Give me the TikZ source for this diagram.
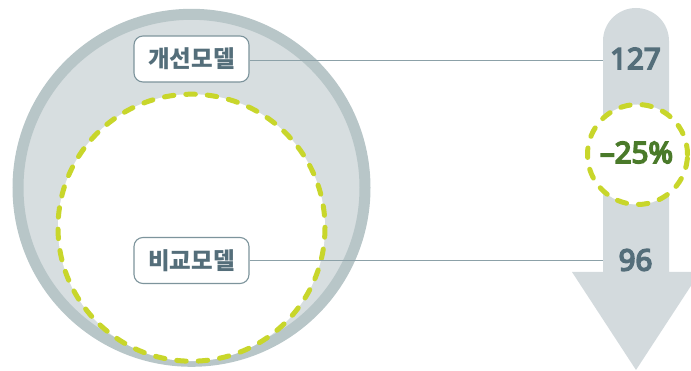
\documentclass[tikz,border=0pt]{standalone}
\usepackage{fontspec}
\setmainfont{Noto Sans}
\newfontfamily\krfont{Noto Sans CJK KR}
\newfontfamily\numfont{Noto Sans}[FakeBold=5.5]
\definecolor{ringc}{HTML}{B8C6C8}
\definecolor{fillc}{HTML}{D7DEE0}
\definecolor{arrowc}{HTML}{D3DADD}
\definecolor{dashc}{HTML}{C8D62B}
\definecolor{textc}{HTML}{546E7A}
\definecolor{greenc}{HTML}{4A7A2A}
\definecolor{boxc}{HTML}{7D949C}
\definecolor{linec}{HTML}{8CA1A8}
\tikzset{
  labelbox/.style={draw=boxc, line width=1.1pt, fill=white, rounded corners=9pt,
    minimum width=115pt, minimum height=46pt, inner sep=0pt,
    font=\krfont\bfseries\fontsize{23.5}{26}\selectfont, text=textc},
  numtext/.style={font=\numfont\fontsize{29.5}{32}\selectfont, text=textc, inner sep=0pt},
  dashring/.style={draw=dashc, line width=5pt, line cap=round, dash pattern=on 9.5pt off 12pt},
  leader/.style={draw=linec, line width=1.1pt}
}
\begin{document}
\begin{tikzpicture}[x=1pt,y=-1pt]
\useasboundingbox (0,0) rectangle (691,371);
\clip (0,0) rectangle (691,371);
% outer circle
\path[fill=fillc, draw=ringc, line width=11pt] (191.5,187.8) circle (173.5);
% inner dashed circle
\path[fill=white, dashring] (191.5,227.7) circle (133.5);
% arrow
\fill[arrowc] (603,272) -- (603,41) arc (180:360:33) -- (669,272) -- (700,272) -- (636,370) -- (572,272) -- cycle;
% labels
\node[labelbox] (improved) at (191.5,59) {개선모델};
\node[labelbox] (compare) at (191.5,260.5) {비교모델};
\coordinate (a1) at (603,60.7);
\coordinate (a2) at (603,260.7);
\draw[leader] (improved.east |- a1) -- (a1);
\draw[leader] (compare.east |- a2) -- (a2);
% numbers
\node[numtext] (n127) at (635.5,58.5) {127};
\node[numtext] (n96) at (635.5,260) {96};
% reduction circle
\node[circle, fill=white, dashring, minimum size=100pt, inner sep=0pt] (red) at (637.5,154.5) {};
\node[font=\numfont\fontsize{29.5}{32}\selectfont, text=greenc, inner sep=0pt] (pct) at (636.5,152.5) {–25\%};
\end{tikzpicture}
\end{document}
